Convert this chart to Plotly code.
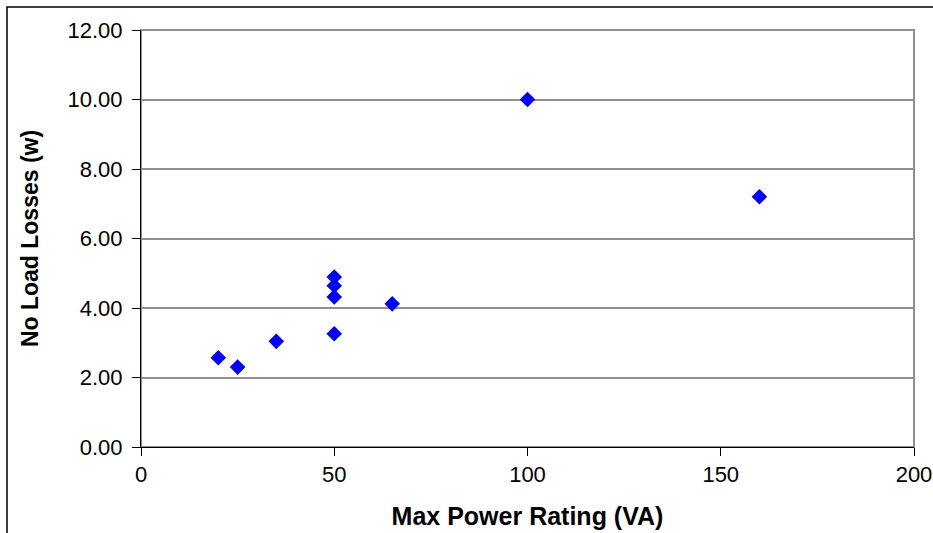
import plotly.graph_objects as go

power_va = [20, 25, 35, 50, 50, 50, 50, 65, 100, 160]
no_load_losses_w = [2.57, 2.30, 3.04, 3.26, 4.32, 4.64, 4.89, 4.12, 10.0, 7.20]
x_ticks = [0, 50, 100, 150, 200]
y_ticks = [0, 2, 4, 6, 8, 10, 12]

W, H = 933, 533
L, R, T, B = 141, 19, 30, 86
pw = W - L - R
ph = H - T - B

fig = go.Figure()
fig.add_trace(go.Scatter(
    x=power_va, y=no_load_losses_w, mode="markers",
    marker=dict(symbol="diamond", size=12, color="#0000FF", line=dict(width=0)),
    showlegend=False, cliponaxis=False,
))

font = "Liberation Sans, Arial, sans-serif"
fig.update_layout(
    width=W, height=H,
    margin=dict(l=L, r=R, t=T, b=B, autoexpand=False),
    paper_bgcolor="white", plot_bgcolor="white",
    font=dict(family=font, color="black"),
    xaxis=dict(
        range=[0, 200], tickvals=x_ticks, ticktext=[str(v) for v in x_ticks],
        showgrid=False, zeroline=False, showline=True, linecolor="black", linewidth=1,
        ticks="outside", ticklen=8, tickcolor="black", tickwidth=1,
        tickfont=dict(size=22, family=font, color="black"),
        title=dict(text="<b>Max Power Rating (VA)</b>", font=dict(size=25, family=font, color="black"), standoff=21),
    ),
    yaxis=dict(
        range=[0, 12], tickvals=y_ticks, ticktext=[f"{v:.2f}" for v in y_ticks],
        showgrid=True, gridcolor="#8f8f8f", gridwidth=2,
        zeroline=False, showline=True, linecolor="black", linewidth=1,
        ticks="outside", ticklen=8, tickcolor="black", tickwidth=1,
        ticklabelstandoff=5,
        tickfont=dict(size=22, family=font, color="black"),
        title=dict(text="<b>No Load Losses (w)</b>", font=dict(size=23, family=font, color="black"), standoff=22),
    ),
    shapes=[
        dict(type="rect", xref="paper", yref="paper", x0=0, x1=1, y0=0, y1=1,
             line=dict(color="#8f8f8f", width=2), layer="below"),
        dict(type="rect", xref="paper", yref="paper",
             x0=(7 - L) / pw, x1=1.3, y0=-0.5, y1=(H - B - 7) / ph,
             line=dict(color="black", width=1.5), layer="below"),
    ],
)

fig.write_html("out.html", config={"displayModeBar": False},
               post_script="document.body.style.margin='0';document.body.style.overflow='hidden';")
